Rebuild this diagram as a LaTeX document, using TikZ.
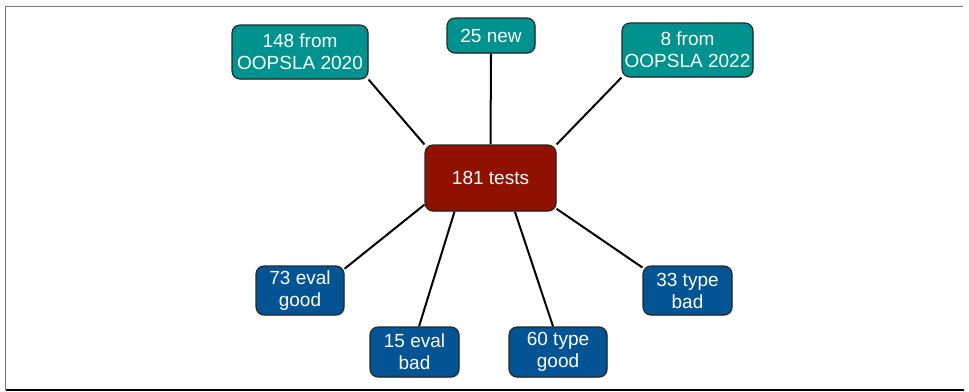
\documentclass[tikz,border=0pt]{standalone}
\usepackage{fontspec}
\setmainfont{Liberation Sans}
\usetikzlibrary{backgrounds,shadows}
\definecolor{srcteal}{RGB}{0,146,143}
\definecolor{totalred}{RGB}{145,17,0}
\definecolor{catblue}{RGB}{2,84,148}
\definecolor{framegray}{RGB}{120,120,120}
\tikzset{
  box/.style={draw=black!85, line width=1.1pt, rounded corners=8pt,
    text=white, align=center, inner sep=0pt,
    font=\fontsize{19}{22}\selectfont,
    drop shadow={shadow xshift=1.2pt, shadow yshift=-1.2pt, opacity=0.25}},
  srcbox/.style={box, fill=srcteal},
  catbox/.style={box, fill=catblue},
  totbox/.style={box, fill=totalred},
  link/.style={line width=2pt, black}
}
\begin{document}
\begin{tikzpicture}[x=1pt,y=-1pt]
\useasboundingbox (0,0) rectangle (969,391);
% frame
\draw[framegray, line width=1.6pt] (5.5,390) -- (5.5,6.5) -- (963,6.5);
\draw[black, line width=1.6pt] (5.5,390) -- (964,390);

% central node
\node[totbox, minimum width=131pt, minimum height=66pt] (t) at (490.5,178) {181 tests};

% sources
\node[srcbox, minimum width=136pt, minimum height=54pt] (o20) at (300,52) {148 from\\OOPSLA 2020};
\node[srcbox, minimum width=88pt, minimum height=35pt] (new) at (491,35.5) {25 new};
\node[srcbox, minimum width=131pt, minimum height=54pt] (o22) at (687.5,50) {8 from\\OOPSLA 2022};

% categories
\node[catbox, minimum width=88pt, minimum height=49pt] (eg) at (300,290.5) {73 eval\\good};
\node[catbox, minimum width=89pt, minimum height=50pt] (eb) at (414.5,352) {15 eval\\bad};
\node[catbox, minimum width=98pt, minimum height=50pt] (tg) at (558,352) {60 type\\good};
\node[catbox, minimum width=89pt, minimum height=49pt] (tb) at (687.5,290.5) {33 type\\bad};

\begin{pgfonlayer}{background}
\draw[link] (o20.south east) -- (t.north west);
\draw[link] (new.south) -- (t.north);
\draw[link] (o22.south west) -- (t.north east);
\draw[link] (eg.26) -- (t.202);
\draw[link] (eb.80) -- (t.223);
\draw[link] (tg.101) -- (t.306);
\draw[link] (tb.153) -- (t.335);
\end{pgfonlayer}
\end{tikzpicture}
\end{document}
